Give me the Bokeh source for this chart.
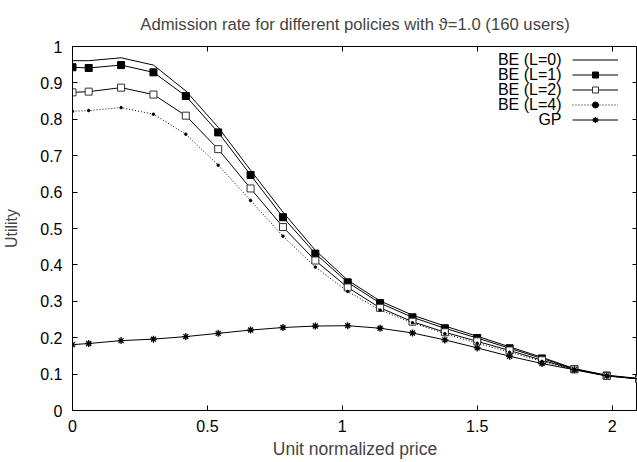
from bokeh.plotting import figure
from bokeh.models import (LinearAxis, FixedTicker, PrintfTickFormatter, Legend,
                          LegendItem, Label, ColumnDataSource)
from bokeh.embed import file_html
from bokeh.resources import INLINE

# ---------------- data ----------------
price = [0, 0.06, 0.18, 0.30, 0.42, 0.54, 0.66, 0.78, 0.90, 1.02, 1.14,
         1.26, 1.38, 1.50, 1.62, 1.74, 1.86, 1.98, 2.10]
be_l0 = [0.961, 0.961, 0.969, 0.949, 0.878, 0.778, 0.660, 0.545, 0.440, 0.358,
         0.301, 0.262, 0.232, 0.204, 0.175, 0.146, 0.115, 0.097, 0.088]
be_l1 = [0.943, 0.941, 0.949, 0.929, 0.864, 0.764, 0.647, 0.531, 0.431, 0.352,
         0.295, 0.256, 0.226, 0.199, 0.171, 0.143, 0.114, 0.096, 0.087]
be_l2 = [0.874, 0.876, 0.887, 0.868, 0.810, 0.718, 0.610, 0.504, 0.412, 0.338,
         0.282, 0.244, 0.215, 0.190, 0.165, 0.138, 0.113, 0.095, 0.087]
be_l4 = [0.822, 0.824, 0.832, 0.814, 0.759, 0.674, 0.577, 0.479, 0.394, 0.327,
         0.276, 0.241, 0.211, 0.185, 0.160, 0.135, 0.112, 0.095, 0.086]
gp = [0.181, 0.184, 0.192, 0.196, 0.203, 0.212, 0.221, 0.228, 0.232, 0.233,
      0.226, 0.213, 0.194, 0.172, 0.149, 0.129, 0.112, 0.095, 0.087]

series_labels = ["BE (L=0)", "BE (L=1)", "BE (L=2)", "BE (L=4)", "GP"]
x_ticks = [0, 0.5, 1, 1.5, 2]
y_ticks = [0, 0.1, 0.2, 0.3, 0.4, 0.5, 0.6, 0.7, 0.8, 0.9, 1]

title_text = "Admission rate for different policies with \u03d1=1.0 (160 users)"
x_label = "Unit normalized price"
y_label = "Utility"

FONT = "Liberation Sans"
FS = "16px"

src = ColumnDataSource(dict(x=price, l0=be_l0, l1=be_l1, l2=be_l2, l4=be_l4, gp=gp))

p = figure(width=637, height=462, x_range=(0, 2.094), y_range=(0, 1),
           output_backend="svg", toolbar_location=None,
           min_border_left=72, min_border_right=0, min_border_top=43,
           min_border_bottom=52, title=title_text)

p.title.text_font = FONT
p.title.text_font_size = "16.7px"
p.title.text_font_style = "normal"
p.title.align = "center"
p.title.standoff = 25

p.xgrid.visible = False
p.ygrid.visible = False
p.outline_line_color = "black"
p.outline_line_width = 1
p.background_fill_color = "white"
p.border_fill_color = "white"


def style_axis(ax, ticks, show_labels):
    ax.ticker = FixedTicker(ticks=ticks)
    ax.formatter = PrintfTickFormatter(format="%.3g")
    ax.major_tick_in = 5
    ax.major_tick_out = 0
    ax.minor_tick_in = 0
    ax.minor_tick_out = 0
    ax.axis_line_color = "black"
    ax.major_tick_line_color = "black"
    ax.major_label_text_font = FONT
    ax.axis_label_text_font = FONT
    ax.axis_label_text_font_style = "normal"
    ax.axis_label_text_font_size = FS
    if show_labels:
        ax.major_label_text_font_size = FS
        ax.major_label_text_color = "black"
    else:
        ax.major_label_text_font_size = "0px"
        ax.major_label_text_color = None
        ax.major_label_standoff = 0


style_axis(p.xaxis[0], x_ticks, True)
style_axis(p.yaxis[0], y_ticks, True)
p.xaxis[0].axis_label = x_label
p.yaxis[0].axis_label = y_label
p.xaxis[0].axis_label_text_font_size = "17.5px"
p.xaxis[0].major_label_standoff = 9
p.xaxis[0].axis_label_standoff = 4
p.yaxis[0].major_label_standoff = 10
p.yaxis[0].axis_label_standoff = 17

top_ax = LinearAxis()
style_axis(top_ax, x_ticks, False)
p.add_layout(top_ax, "above")
right_ax = LinearAxis()
style_axis(right_ax, y_ticks, False)
p.add_layout(right_ax, "right")

# ---------------- series ----------------
r0 = p.line("x", "l0", source=src, line_color="black", line_width=1)
r1 = p.line("x", "l1", source=src, line_color="black", line_width=1)
m1 = p.scatter("x", "l1", source=src, marker="square", size=7,
               fill_color="black", line_color="black")
r2 = p.line("x", "l2", source=src, line_color="black", line_width=1)
m2 = p.scatter("x", "l2", source=src, marker="square", size=7,
               fill_color="white", line_color="#333333", line_width=1)
r4 = p.line("x", "l4", source=src, line_color="black", line_width=1,
            line_dash="1 2")
m4 = p.scatter("x", "l4", source=src, marker="circle", size=2.5,
               fill_color="black", line_color="black")
rg = p.line("x", "gp", source=src, line_color="black", line_width=1)
mg = p.scatter("x", "gp", source=src, marker="asterisk", size=7,
               line_color="black", line_width=1.3)

legend = Legend(items=[LegendItem(label=" ", renderers=[r0]),
                       LegendItem(label=" ", renderers=[r1, m1]),
                       LegendItem(label=" ", renderers=[r2, m2]),
                       LegendItem(label=" ", renderers=[r4, m4]),
                       LegendItem(label=" ", renderers=[rg, mg])],
                location=(500, 283.5), glyph_width=46, glyph_height=15,
                label_height=15, label_width=0, label_standoff=0, spacing=0,
                padding=0, margin=0, border_line_color=None,
                background_fill_alpha=0, label_text_font_size="6px")
p.add_layout(legend)

for i, lab in enumerate(series_labels):
    p.add_layout(Label(x=489, y=351 - 15 * i, x_units="screen", y_units="screen",
                       text=lab, text_align="right", text_baseline="middle",
                       text_font=FONT, text_font_size=FS, text_color="black"))

open("out.html", "w").write(file_html(p, INLINE))
